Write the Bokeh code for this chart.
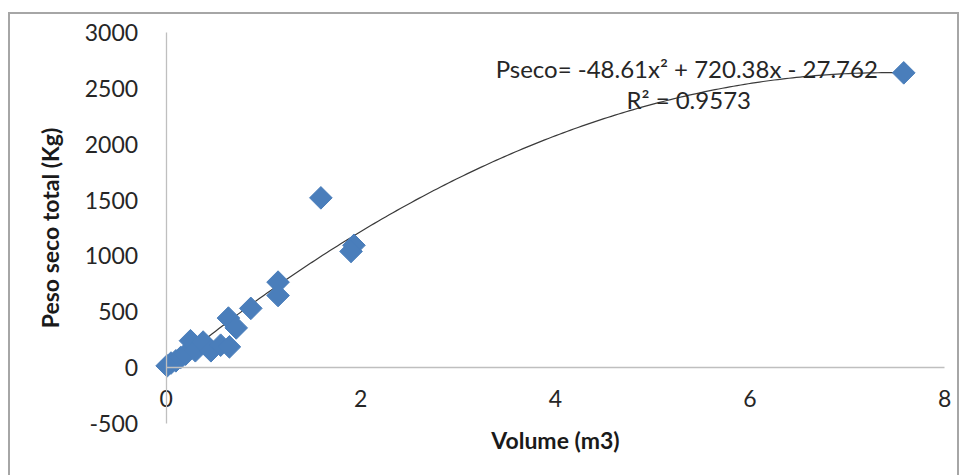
import numpy as np
from bokeh.plotting import figure
from bokeh.models import Range1d, Label, FixedTicker
from bokeh.embed import file_html
from bokeh.resources import INLINE

# data
volume = [0.01, 0.05, 0.10, 0.15, 0.20, 0.25, 0.30, 0.38, 0.46, 0.56, 0.65, 0.64, 0.72, 0.87, 1.15, 1.15, 1.59, 1.93, 1.90, 7.58]
peso = [15, 40, 60, 90, 120, 240, 150, 228, 150, 200, 185, 443, 355, 530, 765, 645, 1520, 1095, 1040, 2640]

# trendline coefficients shown on the chart
coef_a, coef_b, coef_c = -48.61, 720.38, -27.762
eq_text = "Pseco= -48.61x\u00b2 + 720.38x - 27.762"
r2_text = "R\u00b2 = 0.9573"

x_ticks = [0, 2, 4, 6, 8]
y_ticks = [-500, 0, 500, 1000, 1500, 2000, 2500, 3000]
y_tick_labels = {t: str(t) for t in y_ticks}

W, H = 947, 463
# frame covers the whole canvas; data 0 sits at canvas (155, 350)
px_x = 96.9      # pixels per volume unit
px_y = 0.11067   # pixels per kg
x0_px, y0_px = 155, 350
x_start = -x0_px / px_x
x_end = (W - x0_px) / px_x
y_end = y0_px / px_y
y_start = -(H - y0_px) / px_y

p = figure(width=W, height=H, output_backend="svg", toolbar_location=None,
           x_range=Range1d(x_start, x_end), y_range=Range1d(y_start, y_end),
           min_border_left=0, min_border_right=0, min_border_top=0, min_border_bottom=0,
           background_fill_color="white", border_fill_color="white",
           margin=(12, 7, 0, 8),
           styles={"border": "2px solid #a6a6a6", "box-sizing": "content-box"})
p.outline_line_color = None
p.grid.visible = False

FONT = "Lato"
for ax in (p.xaxis[0], p.yaxis[0]):
    ax.fixed_location = 0
    ax.axis_line_color = "#bfbfbf"
    ax.axis_line_width = 1.3
    ax.major_tick_line_color = None
    ax.minor_tick_line_color = None
    ax.major_label_text_font = FONT
    ax.major_label_text_font_size = "23px"
    ax.major_label_text_color = "#262626"
    ax.axis_label_text_font = FONT
    ax.axis_label_text_font_size = "23px"
    ax.axis_label_text_font_style = "bold"
    ax.axis_label_text_color = "#1a1a1a"

xa = p.xaxis[0]
xa.ticker = FixedTicker(ticks=x_ticks)
xa.bounds = (0, 8)
xa.major_label_standoff = 16
xa.axis_label = "Volume (m3)"
xa.axis_label_standoff = 16

ya = p.yaxis[0]
ya.ticker = FixedTicker(ticks=y_ticks)
ya.major_label_overrides = y_tick_labels
ya.bounds = (-500, 3000)
ya.major_label_standoff = 22
ya.axis_label = "Peso seco total (Kg)"
ya.axis_label_standoff = 18

# trendline from the printed equation over the data span
xs = np.linspace(min(volume), max(volume), 200)
ys = coef_a * xs**2 + coef_b * xs + coef_c
p.line(xs, ys, line_color="#3a3a3a", line_width=1.2)

p.scatter(volume, peso, marker="square", size=16, angle=np.pi / 4,
          fill_color="#4a7ebb", line_color="#4a7ebb", line_width=1)

p.add_layout(Label(x=5.35, y=2680, text=eq_text, text_align="center", text_baseline="middle",
                   text_font=FONT, text_font_size="24px", text_color="#262626"))
p.add_layout(Label(x=5.37, y=2405, text=r2_text, text_align="center", text_baseline="middle",
                   text_font=FONT, text_font_size="24px", text_color="#262626"))

open("out.html", "w").write(file_html(p, INLINE))
